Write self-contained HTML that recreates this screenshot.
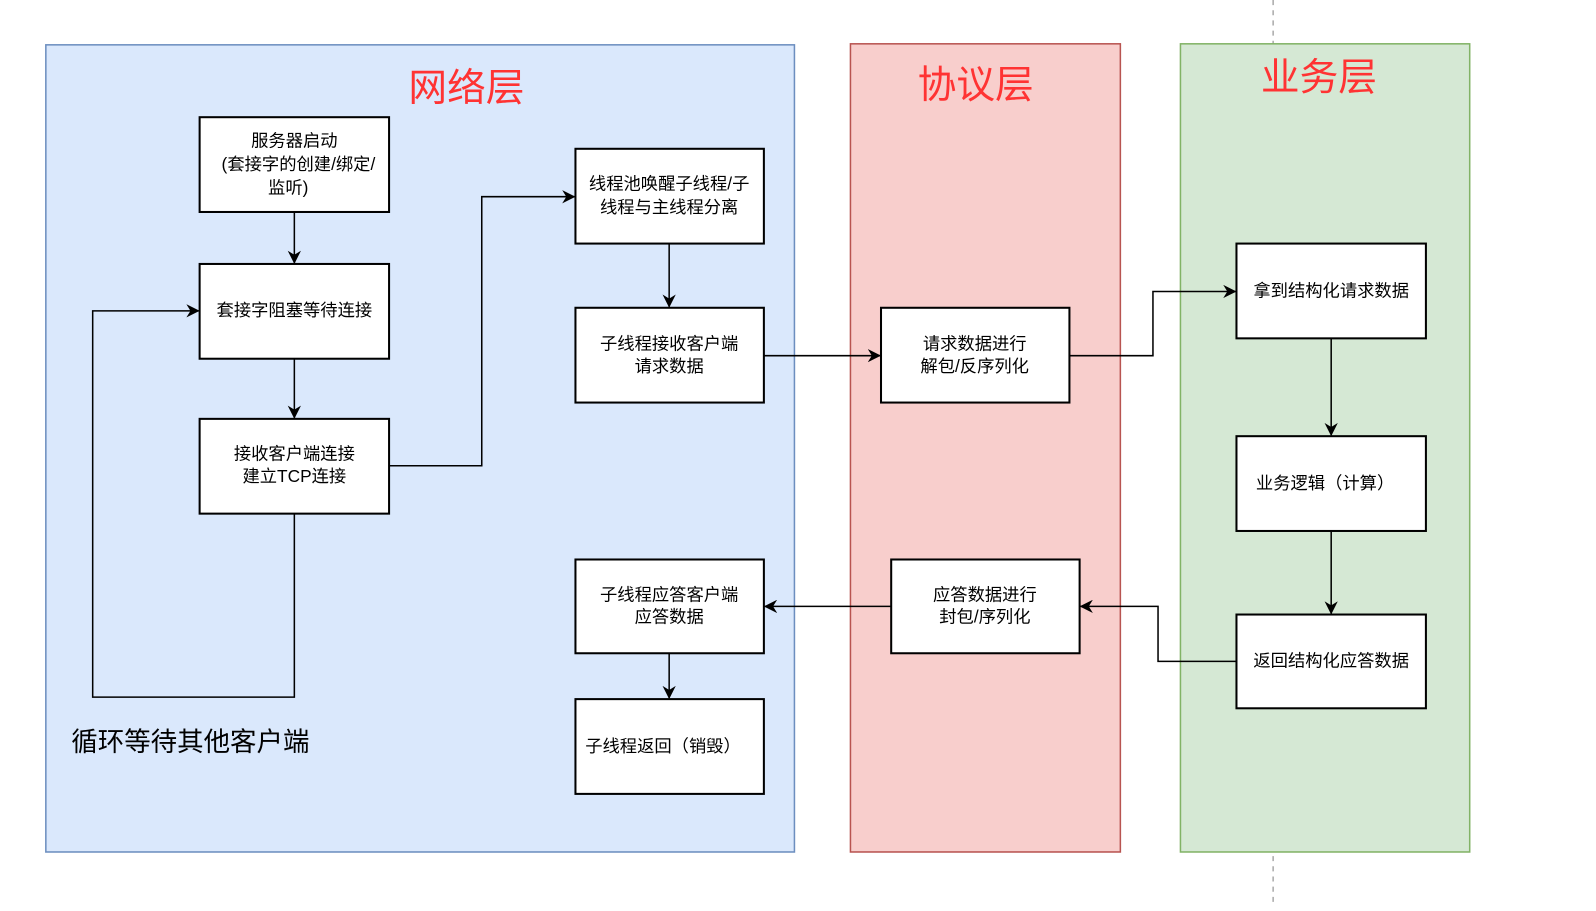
<!DOCTYPE html>
<html><head><meta charset="utf-8"><style>
html,body{margin:0;padding:0;background:#fff;}
svg text{font-family:"Liberation Sans","Noto Sans CJK SC",sans-serif;}
</style></head><body>
<svg width="1596" height="906" viewBox="0 0 1567 889" preserveAspectRatio="none" xmlns="http://www.w3.org/2000/svg">
<defs>
<marker id="ar" markerWidth="13" markerHeight="13" refX="12" refY="6.5" orient="auto" markerUnits="userSpaceOnUse">
<path d="M0,0 L13,6.5 L0,13 L4,6.5 Z" fill="#000"/>
</marker>
</defs>
<line x1="1250" y1="0" x2="1250" y2="906" stroke="#aaa" stroke-width="1.5" stroke-dasharray="5,5"/>
<rect x="45" y="44" width="735" height="792" fill="#dae8fc" stroke="#6c8ebf" stroke-width="1.5"/>
<rect x="835" y="43" width="265" height="793" fill="#f8cecc" stroke="#b85450" stroke-width="1.5"/>
<rect x="1159" y="43" width="284" height="793" fill="#d5e8d4" stroke="#82b366" stroke-width="1.5"/>
<g fill="#ff3333" font-size="38" text-anchor="middle">
<text x="458" y="99">网络层</text>
<text x="958" y="96">协议层</text>
<text x="1295" y="89">业务层</text>
</g>
<g fill="#fff" stroke="#000" stroke-width="2">
<rect x="196" y="115" width="186" height="93"/>
<rect x="196" y="259" width="186" height="93"/>
<rect x="196" y="411" width="186" height="93"/>
<rect x="565" y="146" width="185" height="93"/>
<rect x="565" y="302" width="185" height="93"/>
<rect x="565" y="549" width="185" height="92"/>
<rect x="565" y="686" width="185" height="93"/>
<rect x="865" y="302" width="185" height="93"/>
<rect x="875" y="549" width="185" height="92"/>
<rect x="1214" y="239" width="186" height="93"/>
<rect x="1214" y="428" width="186" height="93"/>
<rect x="1214" y="603" width="186" height="92"/>
</g>
<g fill="#000" font-size="17" text-anchor="middle">
<text x="289" y="144">服务器启动</text>
<text x="293" y="167">(套接字的创建/绑定/</text>
<text x="283" y="190">监听)</text>
<text x="289" y="310">套接字阻塞等待连接</text>
<text x="289" y="451">接收客户端连接</text>
<text x="289" y="473">建立TCP连接</text>
<text x="657" y="186">线程池唤醒子线程/子</text>
<text x="657" y="209">线程与主线程分离</text>
<text x="657" y="343">子线程接收客户端</text>
<text x="657" y="365">请求数据</text>
<text x="657" y="589">子线程应答客户端</text>
<text x="657" y="611">应答数据</text>
<text x="651" y="738">子线程返回（销毁）</text>
<text x="957" y="343">请求数据进行</text>
<text x="957" y="365">解包/反序列化</text>
<text x="967" y="589">应答数据进行</text>
<text x="967" y="611">封包/序列化</text>
<text x="1307" y="291">拿到结构化请求数据</text>
<text x="1301" y="480">业务逻辑（计算）</text>
<text x="1307" y="654">返回结构化应答数据</text>
</g>
<text x="70" y="737" font-size="26" fill="#000">循环等待其他客户端</text>
<g fill="none" stroke="#000" stroke-width="1.5" marker-end="url(#ar)">
<path d="M289,208 V258"/>
<path d="M289,352 V410"/>
<path d="M289,504 V684 H91 V305 H195"/>
<path d="M382,457 H473 V193 H564"/>
<path d="M657,239 V301"/>
<path d="M750,349 H864"/>
<path d="M1050,349 H1132 V286 H1213"/>
<path d="M1307,332 V427"/>
<path d="M1307,521 V602"/>
<path d="M1214,649 H1137 V595 H1061"/>
<path d="M875,595 H751"/>
<path d="M657,641 V685"/>
</g>
</svg>
</body></html>
